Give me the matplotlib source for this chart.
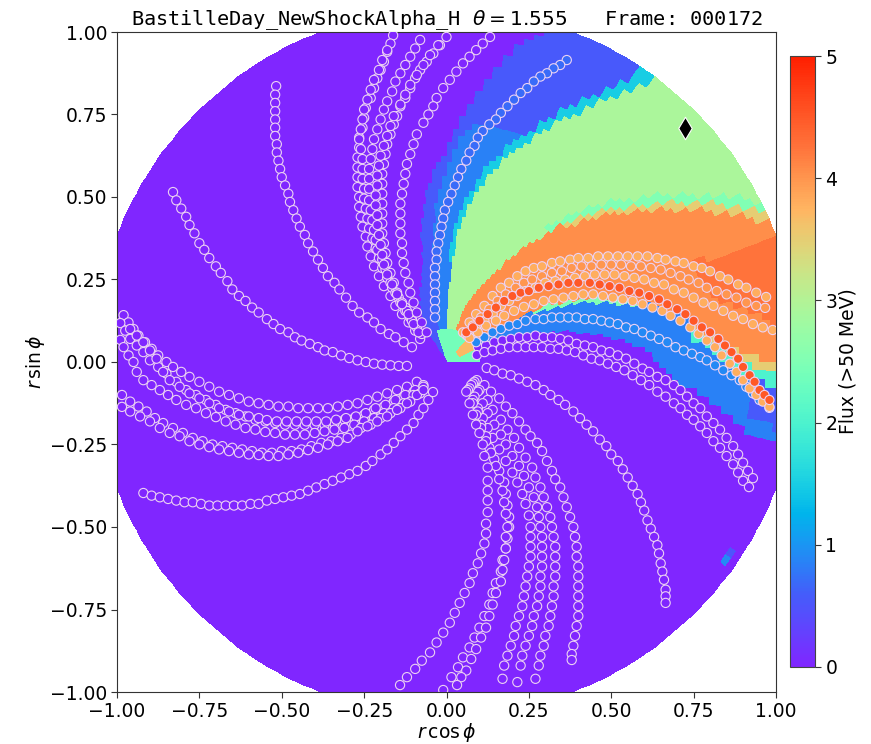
import numpy as np
import matplotlib
matplotlib.use("Agg")
import matplotlib.pyplot as plt
from matplotlib.colors import ListedColormap

# Field boundaries, (x, y), ordered outwards
b_violet_low = [(.086, .036), (.162, .073), (.284, .091), (.435, .088), (.587, .045), (.709, -.064), (.912, -.206), (1.05, -.27)]
b_orange_low = [(.102, .067), (.284, .167), (.486, .197), (.638, .167), (.769, .106), (.89, .027), (1.003, -.003), (1.08, -.03)]
b_orange_top = [(.032, .118), (.153, .279), (.284, .379), (.435, .452), (.587, .476), (.79, .482), (.96, .455), (1.05, .43)]
b_green_top = [(.002, .167), (.041, .421), (.132, .573), (.284, .694), (.435, .773), (.578, .833), (.624, .864), (.66, .91)]
b_blue_mid = [(-.029, .127), (-.044, .309), (-.029, .491), (.026, .642), (.071, .718)]
b_blue_top = [(-.06, .09), (-.071, .288), (-.08, .391), (-.071, .47), (-.041, .573), (.002, .652), (.102, .824), (.171, .924), (.293, 1.0), (.33, 1.06)]
b_dark_low = [(.72, .26), (.8, .2), (1.02, .1), (1.06, .08)]
b_dark_top = [(.7, .30), (.82, .318), (1.0, .379), (1.06, .39)]
b_core_right = [(.09, .0)]
b_core_left = [(-.03, .09)]
b_patch_low = [(.09, .04)]
b_patch_top = [(.06, .07)]

flux_blue_arc = 0.85
flux_orange = 4.05
flux_dark = 4.25
flux_green = 2.92
flux_teal = 2.5
flux_yellow = 3.5
flux_cyan = 1.5
flux_blue_out = 0.55
flux_core = 2.4
flux_patch = 3.7

spot_x = [.855, .875]
spot_y = [-.606, -.579]
spot_flux = [.9, .5]

# Particle tracks
lane_l1 = [(-.83,.515),(-.82,.49),(-.805,.465),(-.79,.44),(-.78,.415),(-.765,.39),(-.75,.36),(-.735,.34),(-.72,.315),(-.70,.29),(-.685,.27),(-.665,.245),(-.65,.22),(-.63,.20),(-.61,.185),(-.59,.165),(-.57,.15),(-.545,.13),(-.525,.115),(-.505,.10),(-.48,.09),(-.46,.075),(-.44,.065),(-.415,.055),(-.39,.045),(-.37,.035),(-.345,.03),(-.32,.02),(-.295,.012),(-.27,.005),(-.245,0),(-.22,-.005),(-.195,-.008),(-.17,-.01),(-.145,-.012),(-.12,-.012)]
lane_l2 = [(-.517,.836),(-.52,.81),(-.52,.785),(-.52,.76),(-.52,.735),(-.52,.71),(-.52,.685),(-.515,.66),(-.515,.635),(-.51,.61),(-.505,.585),(-.50,.56),(-.49,.535),(-.48,.51),(-.475,.485),(-.465,.46),(-.455,.435),(-.445,.41),(-.43,.385),(-.42,.36),(-.405,.335),(-.39,.31),(-.375,.285),(-.36,.26),(-.34,.24),(-.325,.22),(-.305,.195),(-.285,.17),(-.265,.15),(-.24,.135),(-.22,.12),(-.20,.10),(-.175,.085),(-.155,.075),(-.13,.06),(-.105,.045)]
lane_t1 = [(-.162,.99),(-.17,.965),(-.18,.94),(-.19,.91),(-.20,.885),(-.21,.86),(-.22,.83),(-.23,.80),(-.245,.77),(-.25,.74),(-.255,.71),(-.265,.68),(-.265,.65),(-.27,.62),(-.27,.59),(-.27,.56),(-.27,.53),(-.265,.50),(-.265,.47),(-.26,.44),(-.255,.41),(-.245,.38),(-.24,.35),(-.23,.32),(-.22,.29),(-.205,.26),(-.19,.23),(-.17,.20),(-.155,.17),(-.135,.145),(-.115,.12),(-.095,.095),(-.08,.07)]
lane_t1b = [(-.18,.945),(-.195,.915),(-.205,.885),(-.22,.855),(-.23,.825),(-.24,.795),(-.25,.765),(-.255,.735),(-.26,.705),(-.265,.675),(-.26,.645),(-.255,.615),(-.255,.585),(-.255,.555),(-.25,.525),(-.25,.495),(-.245,.465),(-.24,.435),(-.235,.405),(-.225,.375),(-.215,.345),(-.205,.315),(-.195,.285),(-.18,.255),(-.165,.225),(-.145,.195),(-.125,.165),(-.11,.135),(-.09,.11),(-.075,.085)]
lane_t2 = [(-.08,.976),(-.095,.95),(-.11,.925),(-.125,.90),(-.14,.875),(-.155,.85),(-.165,.82),(-.18,.79),(-.19,.765),(-.20,.735),(-.21,.705),(-.22,.675),(-.225,.645),(-.23,.615),(-.235,.585),(-.235,.555),(-.235,.525),(-.235,.49),(-.23,.46),(-.225,.43),(-.22,.40),(-.215,.37),(-.21,.34),(-.195,.31),(-.185,.28),(-.17,.24),(-.155,.21),(-.14,.18),(-.125,.155),(-.105,.13),(-.09,.105)]
lane_t3 = [(0,.985),(-.02,.96),(-.04,.935),(-.06,.91),(-.08,.885),(-.095,.86),(-.11,.83),(-.125,.80),(-.14,.775),(-.15,.745),(-.16,.72),(-.17,.69),(-.18,.66),(-.185,.63),(-.19,.60),(-.195,.57),(-.195,.54),(-.195,.51),(-.195,.48),(-.195,.45),(-.195,.42),(-.195,.39),(-.19,.36),(-.185,.33),(-.18,.30),(-.17,.27),(-.16,.24),(-.15,.21),(-.135,.18),(-.12,.155),(-.105,.125),(-.085,.09)]
lane_t3b = [(-.025,.96),(-.05,.93),(-.07,.90),(-.09,.87),(-.11,.84),(-.125,.81),(-.14,.78),(-.16,.745),(-.17,.715),(-.18,.685),(-.19,.655),(-.20,.625),(-.205,.595),(-.21,.565),(-.21,.535),(-.215,.505),(-.215,.475),(-.21,.445),(-.21,.415),(-.205,.385),(-.20,.355),(-.195,.325),(-.19,.295),(-.18,.265),(-.165,.235),(-.15,.205),(-.135,.175),(-.115,.145),(-.10,.115)]
lane_t4 = [(.132,.985),(.11,.965),(.09,.945),(.07,.925),(.05,.905),(.03,.88),(.01,.855),(-.01,.83),(-.03,.80),(-.04,.775),(-.055,.75),(-.07,.725),(-.09,.69),(-.10,.66),(-.11,.63),(-.12,.60),(-.125,.57),(-.13,.54),(-.135,.51),(-.14,.48),(-.14,.45),(-.14,.42),(-.14,.39),(-.135,.36),(-.135,.33),(-.13,.30),(-.125,.27),(-.115,.24),(-.11,.21),(-.10,.18),(-.09,.15),(-.075,.12),(-.06,.09)]
lane_blue = [(.365,.915),(.345,.90),(.325,.89),(.305,.875),(.285,.865),(.265,.85),(.245,.83),(.225,.815),(.205,.795),(.185,.775),(.165,.755),(.15,.735),(.13,.72),(.11,.70),(.095,.68),(.085,.655),(.07,.635),(.06,.61),(.045,.585),(.035,.56),(.025,.535),(.015,.51),(.005,.485),(-.005,.46),(-.01,.435),(-.015,.41),(-.02,.385),(-.025,.36),(-.03,.335),(-.03,.31),(-.035,.285),(-.035,.26),(-.035,.235),(-.035,.21),(-.035,.185),(-.035,.16),(-.035,.135)]
lane_o1 = [(.05,.09),(.07,.12),(.09,.145),(.115,.17),(.14,.20),(.165,.225),(.19,.24),(.215,.26),(.24,.275),(.265,.285),(.29,.29),(.32,.30),(.345,.305),(.375,.31),(.40,.315),(.43,.315),(.46,.32),(.49,.32),(.52,.32),(.55,.32),(.58,.32),(.61,.32),(.64,.315),(.665,.31),(.695,.305),(.72,.30),(.75,.29),(.775,.285),(.80,.275),(.83,.26),(.855,.25),(.885,.235),(.91,.225),(.94,.21),(.97,.197)]
lane_o2 = [(.06,.082),(.08,.11),(.105,.135),(.13,.16),(.155,.185),(.18,.205),(.21,.225),(.235,.24),(.26,.25),(.29,.26),(.32,.27),(.35,.275),(.38,.285),(.41,.29),(.44,.29),(.47,.295),(.50,.295),(.53,.295),(.56,.29),(.59,.29),(.62,.285),(.65,.28),(.68,.27),(.71,.26),(.735,.25),(.765,.24),(.79,.225),(.82,.215),(.85,.205),(.88,.195),(.91,.18),(.94,.17),(.967,.164)]
lane_o3 = [(.065,.078),(.09,.10),(.115,.125),(.14,.145),(.165,.17),(.19,.185),(.215,.20),(.24,.215),(.27,.225),(.30,.24),(.33,.245),(.36,.25),(.39,.255),(.42,.26),(.45,.265),(.48,.265),(.51,.265),(.54,.26),(.57,.255),(.60,.25),(.63,.24),(.66,.235),(.69,.22),(.72,.21),(.75,.195),(.78,.18),(.81,.17),(.84,.155),(.87,.14),(.90,.13),(.93,.115),(.96,.105),(.99,.097)]
lane_o4 = [(.06,.09),(.08,.105),(.10,.125),(.125,.145),(.15,.165),(.175,.185),(.20,.20),(.225,.21),(.25,.215),(.28,.225),(.31,.23),(.34,.235),(.37,.24),(.40,.24),(.435,.24),(.465,.235),(.495,.23),(.525,.225),(.555,.215),(.585,.21),(.615,.20),(.645,.19),(.67,.175),(.70,.16),(.725,.145),(.75,.125),(.775,.105),(.80,.09),(.825,.07),(.845,.05),(.865,.03),(.885,.01),(.90,-.015),(.92,-.04),(.935,-.06),(.95,-.085),(.965,-.10),(.98,-.115)]
lane_o5 = [(.07,.073),(.095,.09),(.12,.11),(.15,.125),(.175,.14),(.205,.155),(.235,.167),(.265,.175),(.295,.185),(.325,.19),(.355,.195),(.385,.20),(.415,.205),(.445,.205),(.475,.20),(.505,.195),(.535,.19),(.565,.185),(.595,.175),(.625,.165),(.655,.155),(.68,.14),(.71,.125),(.74,.105),(.765,.085),(.79,.065),(.815,.045),(.835,.02),(.86,-.005),(.88,-.03),(.90,-.055),(.92,-.08),(.94,-.10),(.96,-.12),(.98,-.136)]
lane_b = [(.09,.06),(.115,.075),(.14,.09),(.165,.10),(.19,.11),(.215,.115),(.24,.125),(.27,.13),(.295,.13),(.32,.135),(.345,.135),(.37,.135),(.395,.135),(.42,.13),(.445,.13),(.47,.125),(.495,.12),(.52,.115),(.545,.105),(.57,.10),(.595,.09),(.62,.08),(.645,.07),(.67,.06),(.695,.045),(.72,.035),(.745,.025),(.77,.015),(.79,.005),(.815,-.01),(.84,-.025),(.865,-.04),(.89,-.055),(.91,-.075),(.93,-.095),(.95,-.115),(.98,-.139)]
lane_p1 = [(.096,.045),(.12,.05),(.145,.06),(.17,.065),(.195,.07),(.22,.075),(.245,.075),(.27,.08),(.295,.075),(.32,.075),(.345,.07),(.37,.065),(.395,.055),(.42,.05),(.445,.045),(.47,.035),(.495,.03),(.52,.02),(.545,.01),(.57,-.005),(.595,-.02),(.615,-.03),(.64,-.045),(.665,-.055),(.69,-.07),(.71,-.085),(.73,-.105),(.75,-.125),(.77,-.14),(.79,-.165),(.81,-.185),(.83,-.205),(.85,-.23),(.87,-.255),(.885,-.28),(.90,-.305),(.915,-.33),(.93,-.352)]
lane_p2 = [(.092,.021),(.115,.03),(.14,.035),(.165,.04),(.19,.045),(.215,.045),(.24,.045),(.265,.045),(.29,.045),(.315,.04),(.34,.04),(.365,.035),(.39,.03),(.415,.02),(.44,.01),(.465,.005),(.49,-.005),(.515,-.015),(.54,-.025),(.565,-.04),(.59,-.055),(.615,-.07),(.64,-.09),(.665,-.105),(.69,-.125),(.71,-.14),(.73,-.16),(.75,-.175),(.77,-.195),(.79,-.215),(.81,-.24),(.83,-.26),(.85,-.285),(.87,-.31),(.885,-.335),(.90,-.36),(.918,-.379)]
lane_p3 = [(.122,-.018),(.145,-.025),(.17,-.035),(.195,-.04),(.22,-.05),(.245,-.06),(.27,-.07),(.295,-.085),(.315,-.10),(.34,-.115),(.36,-.13),(.385,-.15),(.405,-.17),(.425,-.19),(.445,-.21),(.465,-.235),(.485,-.255),(.50,-.28),(.52,-.30),(.535,-.325),(.55,-.35),(.565,-.375),(.58,-.40),(.59,-.425),(.60,-.45),(.61,-.48),(.62,-.505),(.63,-.53),(.64,-.555),(.645,-.58),(.65,-.61),(.655,-.635),(.66,-.66),(.665,-.69),(.665,-.71),(.665,-.73)]
lane_d1 = [(.092,-.055),(.115,-.07),(.135,-.09),(.16,-.11),(.18,-.135),(.20,-.155),(.22,-.18),(.24,-.205),(.255,-.225),(.275,-.245),(.29,-.27),(.305,-.30),(.32,-.33),(.33,-.355),(.345,-.38),(.355,-.41),(.365,-.44),(.375,-.47),(.385,-.50),(.39,-.53),(.395,-.56),(.395,-.59),(.40,-.62),(.40,-.65),(.40,-.68),(.40,-.71),(.40,-.74),(.40,-.77),(.395,-.80),(.39,-.83),(.385,-.86),(.38,-.885),(.38,-.903)]
lane_d2 = [(.085,-.06),(.10,-.085),(.125,-.115),(.14,-.145),(.165,-.175),(.185,-.205),(.205,-.23),(.22,-.26),(.24,-.29),(.26,-.32),(.27,-.35),(.285,-.38),(.295,-.41),(.305,-.44),(.315,-.47),(.32,-.50),(.325,-.53),(.33,-.56),(.33,-.59),(.33,-.62),(.33,-.65),(.325,-.68),(.325,-.71),(.32,-.74),(.315,-.77),(.31,-.80),(.30,-.83),(.295,-.86),(.285,-.89),(.28,-.92),(.27,-.96)]
lane_d3 = [(.08,-.065),(.095,-.09),(.11,-.125),(.125,-.155),(.145,-.19),(.165,-.22),(.18,-.25),(.20,-.285),(.22,-.315),(.235,-.345),(.25,-.38),(.265,-.41),(.275,-.44),(.28,-.47),(.285,-.50),(.29,-.53),(.29,-.56),(.29,-.59),(.29,-.62),(.285,-.65),(.285,-.68),(.28,-.71),(.275,-.74),(.265,-.77),(.26,-.80),(.25,-.83),(.24,-.86),(.23,-.89),(.225,-.92),(.215,-.97)]
lane_d4 = [(.075,-.07),(.085,-.105),(.095,-.14),(.11,-.17),(.125,-.20),(.14,-.23),(.16,-.265),(.18,-.30),(.20,-.335),(.215,-.365),(.23,-.40),(.24,-.43),(.25,-.465),(.255,-.50),(.255,-.53),(.255,-.56),(.255,-.59),(.25,-.62),(.245,-.65),(.24,-.68),(.235,-.71),(.23,-.74),(.22,-.77),(.21,-.80),(.205,-.83),(.195,-.86),(.185,-.89),(.175,-.92),(.17,-.96)]
lane_d5 = [(.07,-.08),(.08,-.115),(.095,-.15),(.105,-.19),(.12,-.225),(.13,-.26),(.145,-.295),(.16,-.33),(.175,-.365),(.18,-.40),(.185,-.435),(.19,-.47),(.19,-.50),(.185,-.535),(.18,-.565),(.17,-.60),(.165,-.635),(.15,-.67),(.14,-.70),(.13,-.735),(.115,-.77),(.10,-.805),(.085,-.835),(.07,-.865),(.05,-.895),(.035,-.925),(.015,-.955),(-.01,-.994)]
lane_d5b = [(.065,-.085),(.08,-.125),(.09,-.16),(.105,-.20),(.12,-.24),(.135,-.275),(.15,-.315),(.16,-.355),(.17,-.39),(.175,-.425),(.18,-.46),(.185,-.50),(.18,-.53),(.18,-.565),(.175,-.60),(.17,-.63),(.165,-.665),(.15,-.70),(.14,-.735),(.13,-.77),(.12,-.805),(.105,-.835),(.09,-.87),(.075,-.90),(.06,-.935),(.045,-.955),(.032,-.979)]
lane_d6 = [(.06,-.09),(.07,-.125),(.08,-.16),(.09,-.19),(.10,-.215),(.11,-.25),(.115,-.285),(.125,-.32),(.125,-.36),(.125,-.39),(.125,-.42),(.125,-.455),(.12,-.49),(.12,-.52),(.115,-.55),(.105,-.58),(.095,-.61),(.08,-.64),(.07,-.67),(.055,-.70),(.04,-.73),(.025,-.76),(.01,-.79),(-.01,-.82),(-.03,-.85),(-.05,-.88),(-.075,-.905),(-.095,-.93),(-.12,-.955),(-.141,-.979)]
lane_e = [(-.92,-.397),(-.895,-.405),(-.87,-.41),(-.845,-.415),(-.82,-.42),(-.795,-.425),(-.77,-.425),(-.745,-.43),(-.72,-.435),(-.695,-.435),(-.67,-.435),(-.645,-.435),(-.62,-.435),(-.595,-.43),(-.57,-.43),(-.545,-.42),(-.52,-.415),(-.495,-.41),(-.47,-.405),(-.445,-.40),(-.42,-.39),(-.395,-.38),(-.37,-.37),(-.345,-.36),(-.32,-.35),(-.295,-.34),(-.27,-.33),(-.245,-.315),(-.225,-.30),(-.20,-.28),(-.18,-.265),(-.16,-.245),(-.14,-.225),(-.12,-.205),(-.10,-.185),(-.085,-.16),(-.07,-.14),(-.055,-.115),(-.041,-.091)]
lane_a1 = [(-.98,.142),(-.965,.12),(-.95,.10),(-.935,.08),(-.915,.06),(-.895,.04),(-.875,.02),(-.85,0),(-.83,-.015),(-.805,-.03),(-.78,-.045),(-.75,-.06),(-.72,-.075),(-.69,-.09),(-.66,-.10),(-.63,-.11),(-.60,-.12),(-.57,-.125),(-.54,-.13),(-.51,-.135),(-.48,-.135),(-.45,-.14),(-.42,-.14),(-.39,-.14),(-.36,-.14),(-.33,-.135),(-.30,-.13),(-.27,-.125),(-.24,-.115),(-.21,-.105),(-.18,-.095),(-.15,-.085),(-.12,-.075),(-.09,-.06)]
lane_a2 = [(-.99,.118),(-.975,.095),(-.96,.07),(-.94,.05),(-.92,.03),(-.90,.005),(-.875,-.015),(-.85,-.035),(-.82,-.06),(-.79,-.085),(-.76,-.10),(-.73,-.115),(-.70,-.13),(-.67,-.145),(-.64,-.155),(-.61,-.165),(-.58,-.175),(-.55,-.18),(-.52,-.185),(-.49,-.19),(-.46,-.19),(-.43,-.19),(-.40,-.19),(-.37,-.19),(-.34,-.185),(-.31,-.175),(-.28,-.17),(-.25,-.16),(-.22,-.145),(-.19,-.135),(-.16,-.12),(-.13,-.105),(-.10,-.09),(-.07,-.07)]
lane_a1b = [(-.96,.10),(-.94,.08),(-.92,.06),(-.90,.035),(-.88,.01),(-.86,-.03),(-.84,-.055),(-.81,-.075),(-.78,-.095),(-.75,-.11),(-.72,-.125),(-.69,-.14),(-.66,-.15),(-.63,-.16),(-.60,-.165),(-.57,-.17),(-.545,-.176),(-.515,-.18),(-.485,-.18),(-.455,-.18),(-.425,-.18),(-.395,-.18),(-.365,-.18),(-.335,-.175),(-.305,-.17),(-.275,-.165),(-.245,-.155),(-.215,-.14),(-.185,-.13),(-.155,-.115),(-.125,-.10),(-.095,-.085)]
lane_a3 = [(-.99,.067),(-.98,.045),(-.965,.02),(-.95,0),(-.94,-.03),(-.92,-.055),(-.895,-.07),(-.87,-.085),(-.845,-.10),(-.82,-.115),(-.79,-.13),(-.76,-.14),(-.73,-.155),(-.70,-.167),(-.67,-.18),(-.64,-.19),(-.61,-.20),(-.58,-.205),(-.55,-.212),(-.52,-.215),(-.49,-.22),(-.46,-.22),(-.43,-.22),(-.40,-.215),(-.37,-.21),(-.34,-.205),(-.31,-.20),(-.28,-.19),(-.25,-.18),(-.22,-.17),(-.19,-.155),(-.16,-.14),(-.13,-.125),(-.10,-.10),(-.07,-.075)]
lane_c1 = [(-.985,-.10),(-.96,-.12),(-.935,-.135),(-.91,-.15),(-.885,-.17),(-.86,-.185),(-.83,-.20),(-.80,-.215),(-.77,-.23),(-.74,-.24),(-.71,-.25),(-.68,-.255),(-.65,-.26),(-.62,-.265),(-.59,-.27),(-.56,-.275),(-.53,-.275),(-.50,-.27),(-.47,-.27),(-.44,-.265),(-.41,-.255),(-.38,-.245),(-.35,-.24),(-.32,-.23),(-.29,-.22),(-.26,-.20),(-.23,-.19),(-.20,-.17),(-.17,-.155),(-.14,-.14),(-.11,-.12),(-.08,-.095)]
lane_c2 = [(-.985,-.136),(-.96,-.15),(-.93,-.165),(-.90,-.18),(-.87,-.20),(-.84,-.215),(-.81,-.225),(-.78,-.24),(-.75,-.25),(-.72,-.258),(-.69,-.265),(-.66,-.27),(-.63,-.275),(-.60,-.28),(-.57,-.282),(-.54,-.285),(-.51,-.285),(-.48,-.28),(-.45,-.275),(-.42,-.267),(-.39,-.26),(-.36,-.25),(-.33,-.24),(-.30,-.23),(-.27,-.21),(-.24,-.195),(-.21,-.18),(-.18,-.165),(-.15,-.145),(-.12,-.125),(-.09,-.10),(-.07,-.085)]

lanes = [lane_l1, lane_l2, lane_t1, lane_t1b, lane_t2, lane_t3, lane_t3b, lane_t4,
         lane_p1, lane_p2, lane_p3, lane_d1, lane_d2, lane_d3, lane_d4, lane_d5, lane_d5b, lane_d6,
         lane_e, lane_a1, lane_a2, lane_a1b, lane_a3, lane_c1, lane_c2,
         lane_blue, lane_b, lane_o1, lane_o2, lane_o3, lane_o5, lane_o4]
lane_flux = [0] * 25 + [0.7, 0.9, 3.8, 4.0, 3.8, 3.8, 4.5]

# Diamond marker
obs_x = [.724]
obs_y = [.709]

xticks = [-1, -.75, -.5, -.25, 0, .25, .5, .75, 1]
cticks = [0, 1, 2, 3, 4, 5]
title = "BastilleDay_NewShockAlpha_H $\\theta = 1.555$   Frame: 000172"


def polar_curve(points):
    pts = np.array(points)
    return np.hypot(pts[:, 0], pts[:, 1]), np.arctan2(pts[:, 1], pts[:, 0])


def band(field, r, phi, low, high, value, dlow=0, dhigh=0, rmin=0, rmax=2):
    # paint cells between two boundary curves
    rl, pl = polar_curve(low)
    rh, ph = polar_curve(high)
    lo = np.interp(r, rl, pl) + dlow
    hi = np.interp(r, rh, ph) + dhigh
    field[(phi >= lo) & (phi < hi) & (r >= rmin) & (r < rmax)] = value


def build_field():
    r_edges = np.linspace(0, 1.07, 54)
    phi_edges = np.radians(np.arange(-180, 180.5, 1.5))
    r_mid = 0.5 * (r_edges[1:] + r_edges[:-1])
    phi_mid = 0.5 * (phi_edges[1:] + phi_edges[:-1])
    r, phi = np.meshgrid(r_mid, phi_mid, indexing="ij")
    field = np.zeros_like(r)

    band(field, r, phi, b_violet_low, b_orange_low, flux_blue_arc)
    band(field, r, phi, b_violet_low, b_orange_low, flux_blue_out, dlow=0.04, rmin=0.93)
    band(field, r, phi, b_orange_low, b_orange_top, flux_orange)
    band(field, r, phi, b_dark_low, b_dark_top, flux_dark, rmin=0.8)
    band(field, r, phi, b_orange_low, b_orange_low, flux_yellow, dlow=-0.035, rmin=0.75)
    band(field, r, phi, b_orange_low, b_orange_low, flux_cyan + 0.5, dlow=-0.07, dhigh=-0.035, rmin=0.75)
    band(field, r, phi, b_orange_low, b_orange_low, flux_teal, dlow=-0.03, rmin=0.3, rmax=0.6)
    band(field, r, phi, b_orange_top, b_green_top, flux_green)
    band(field, r, phi, b_orange_top, b_orange_top, flux_yellow, dlow=-0.03, rmin=0.55)
    band(field, r, phi, b_orange_top, b_orange_top, flux_teal, dhigh=0.035, rmin=0.5)
    band(field, r, phi, b_green_top, b_blue_top, flux_blue_out)
    band(field, r, phi, b_green_top, b_blue_mid, flux_blue_arc, rmax=0.72)
    band(field, r, phi, b_green_top, b_green_top, flux_cyan, dhigh=0.04, rmin=0.3)
    band(field, r, phi, b_core_right, b_core_left, flux_core, rmax=0.11)
    band(field, r, phi, b_patch_low, b_patch_top, flux_patch, rmin=0.05, rmax=0.12)

    sr = np.hypot(spot_x, spot_y)
    sp = np.arctan2(spot_y, spot_x)
    for a, b, v in zip(sr, sp, spot_flux):
        i = np.searchsorted(r_edges, a) - 1
        j = np.searchsorted(phi_edges, b) - 1
        field[i, j] = v

    rr, pp = np.meshgrid(r_edges, phi_edges, indexing="ij")
    return rr * np.cos(pp), rr * np.sin(pp), field


def flux_cmap():
    # video compression lifts the dark ends of rainbow a little
    x = np.linspace(0, 1, 256)
    rgb = plt.cm.rainbow(x)
    rgb[:, 1] = np.clip(rgb[:, 1] + 0.15 * np.clip(1 - x / 0.12, 0, 1) + 0.12 * np.clip((x - 0.85) / 0.15, 0, 1), 0, 1)
    return ListedColormap(rgb)


if __name__ == "__main__":
    fig = plt.figure(figsize=(8.71, 7.44), dpi=100)
    W, H = 871.0, 744.0
    ax = fig.add_axes([117 / W, 1 - 692 / H, 659 / W, 660 / H])
    cmap = flux_cmap()

    X, Y, field = build_field()
    mesh = ax.pcolormesh(X, Y, field, cmap=cmap, vmin=0, vmax=5, shading="flat", rasterized=True)

    for pts, flux in zip(lanes, lane_flux):
        pts = np.array(pts)
        ax.scatter(pts[:, 0], pts[:, 1], c=np.full(len(pts), flux), cmap=cmap, vmin=0, vmax=5,
                   s=44, edgecolors="#ecd2f3", linewidths=0.8, zorder=3)
    ax.scatter(obs_x, obs_y, marker="d", s=130, c="black", edgecolors="white", linewidths=0.8, zorder=4)

    ax.set_xlim(-1, 1)
    ax.set_ylim(-1, 1)
    ax.set_xticks(xticks)
    ax.set_yticks(xticks)
    ax.set_xticklabels(["\u22121.00", "\u22120.75", "\u22120.50", "\u22120.25", "0.00", "0.25", "0.50", "0.75", "1.00"])
    ax.set_yticklabels(["\u22121.00", "\u22120.75", "\u22120.50", "\u22120.25", "0.00", "0.25", "0.50", "0.75", "1.00"])
    ax.tick_params(labelsize=13.5, length=4.5, color="#333333", pad=2.5)
    for s in ax.spines.values():
        s.set_color("#333333")
    ax.set_xlabel(r"$r\,\cos\phi$", fontsize=13.5, labelpad=0)
    ax.set_ylabel(r"$r\,\sin\phi$", fontsize=13.5, labelpad=2)
    ax.set_title(title, family="DejaVu Sans Mono", fontsize=14.6, pad=4)

    cax = fig.add_axes([790 / W, 1 - 667 / H, 25 / W, 611 / H])
    cbar = fig.colorbar(mesh, cax=cax, ticks=cticks)
    cbar.ax.tick_params(labelsize=13.5, length=4.5, color="#333333", pad=3)
    cbar.set_label("Flux (>50 MeV)", fontsize=13.5, labelpad=1)
    cbar.outline.set_edgecolor("#444444")

    fig.savefig("out.png", dpi=100)
